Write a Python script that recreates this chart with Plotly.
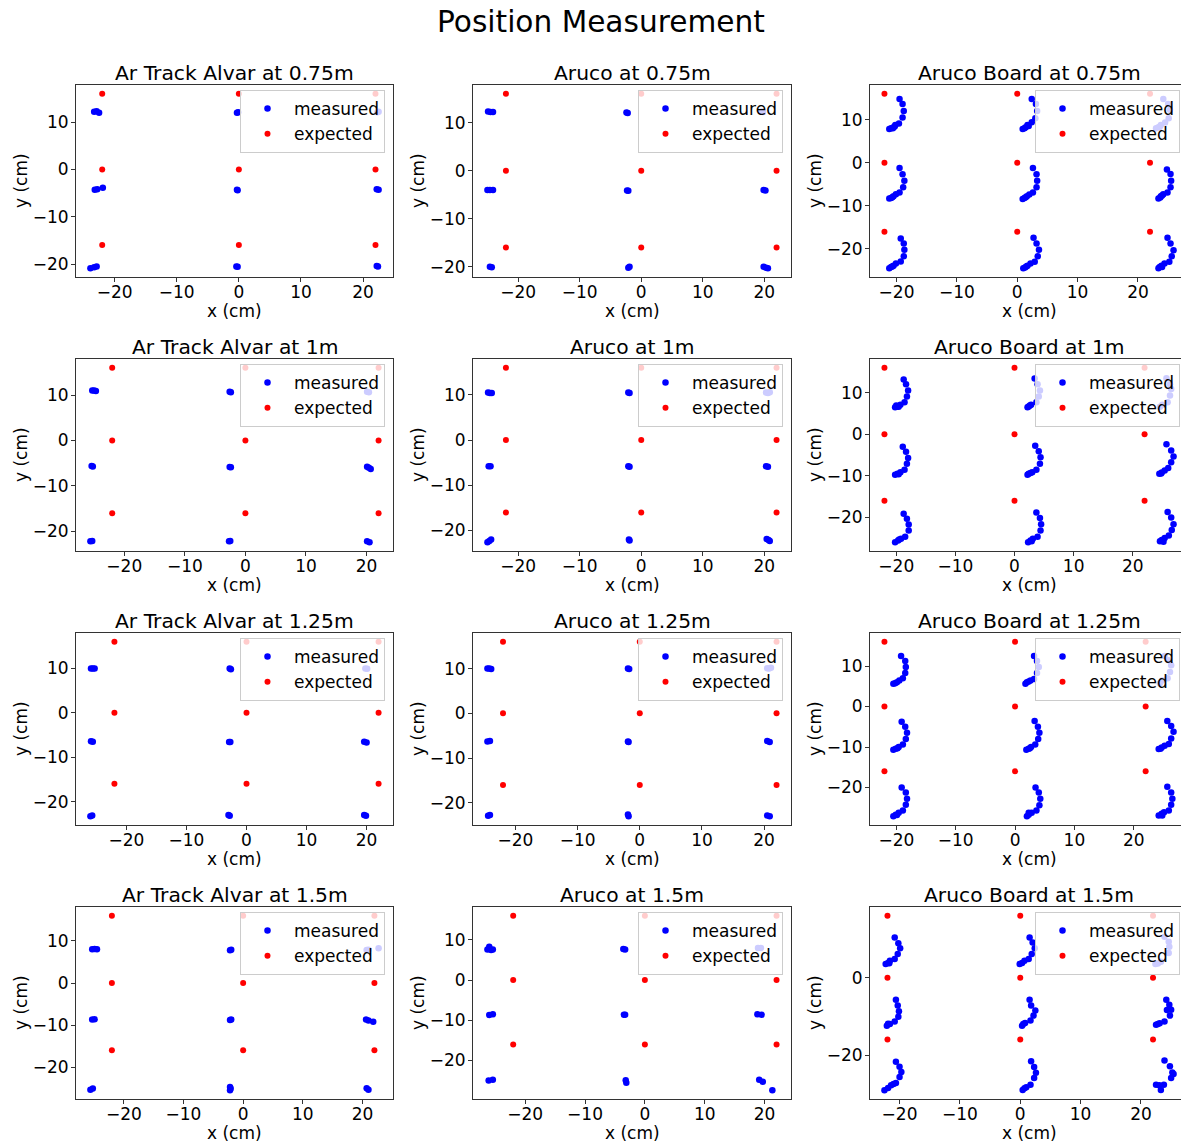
import plotly.graph_objects as go

# ---------------- data ----------------
METHODS = ["Ar Track Alvar", "Aruco", "Aruco Board"]
DISTANCES = ["0.75m", "1m", "1.25m", "1.5m"]

EXPECTED_X = [-22, 0, 22, -22, 0, 22, -22, 0, 22]
EXPECTED_Y = [16, 16, 16, 0, 0, 0, -16, -16, -16]

X_TICKS = [-20, -10, 0, 10, 20]
Y_TICKS = [-20, -10, 0, 10]
Y_TICKS_COARSE = [-20, 0]

# Ar Track Alvar
at075_x = [-23.3, -22.9, -22.5, -0.3, -0.1, 22.3, 22.5,
           -23.2, -22.8, -21.9, -0.3, -0.2, 22.2, 22.5,
           -23.9, -23.3, -22.9, -0.4, -0.2, 22.2, 22.4]
at075_y = [12.2, 12.3, 12.0, 12.0, 12.1, 12.1, 12.2,
           -4.3, -4.2, -3.9, -4.3, -4.4, -4.2, -4.3,
           -20.9, -20.7, -20.5, -20.5, -20.6, -20.4, -20.5]

at100_x = [-25.3, -25.0, -24.7, -2.6, -2.4, 20.1, 20.4,
           -25.4, -25.2, -2.6, -2.4, 20.1, 20.4, 20.7,
           -25.6, -25.3, -2.7, -2.5, 20.1, 20.5]
at100_y = [11.0, 11.0, 10.9, 10.7, 10.6, 10.7, 10.6,
           -5.6, -5.75, -5.85, -5.9, -5.8, -6.0, -6.3,
           -22.2, -22.1, -22.2, -22.1, -22.2, -22.4]

at125_x = [-25.9, -25.6, -25.3, -2.8, -2.6, 19.8, 20.1,
           -25.9, -25.6, -2.9, -2.7, 19.6, 20.0,
           -26.0, -25.7, -3.0, -2.8, 19.6, 19.9]
at125_y = [10.0, 10.0, 10.0, 10.0, 9.8, 10.0, 9.9,
           -6.4, -6.5, -6.6, -6.6, -6.5, -6.7,
           -23.3, -23.1, -23.0, -23.2, -23.0, -23.2]

at150_x = [-25.3, -24.9, -24.5, -2.2, -2.0, 20.7, 21.0, 22.7,
           -25.3, -24.9, -2.2, -2.0, 20.6, 21.0, 21.8,
           -25.6, -25.2, -2.2, -2.2, -2.1, 20.7, 21.0]
at150_y = [8.0, 8.1, 8.0, 7.8, 7.9, 7.85, 7.9, 8.25,
           -8.7, -8.6, -8.8, -8.7, -8.7, -8.9, -9.2,
           -25.4, -25.1, -24.7, -25.5, -25.1, -25.0, -25.4]

# Aruco
aru075_x = [-24.9, -24.5, -24.1, -2.4, -2.2, 19.6, 19.8,
            -25.0, -24.6, -24.1, -2.3, -2.1, 19.9, 20.2,
            -24.6, -24.3, -2.1, -1.9, 19.9, 20.3, 20.6]
aru075_y = [12.3, 12.2, 12.2, 12.1, 12.0, 12.3, 12.2,
            -4.0, -4.0, -4.0, -4.1, -4.2, -4.0, -4.1,
            -20.0, -20.1, -20.2, -20.0, -20.0, -20.2, -20.3]

aru100_x = [-24.9, -24.6, -24.3, -2.1, -1.9, 20.3, 20.6, 20.9,
            -24.8, -24.5, -2.1, -1.9, 20.3, 20.6,
            -25.0, -24.7, -24.4, -2.0, -1.9, 20.4, 20.7, 20.9]
aru100_y = [10.5, 10.4, 10.4, 10.5, 10.4, 10.5, 10.4, 10.6,
            -5.8, -5.8, -5.8, -5.9, -5.8, -5.9,
            -22.6, -22.3, -22.0, -22.0, -22.2, -21.9, -22.1, -22.3]

aru125_x = [-24.5, -24.2, -23.9, -1.9, -1.7, 20.5, 20.8, 21.1,
            -24.5, -24.1, -1.9, -1.8, 20.5, 20.9,
            -24.4, -24.1, -1.9, -1.8, 20.5, 20.9]
aru125_y = [10.0, 10.0, 9.9, 10.0, 9.9, 10.1, 10.0, 10.2,
            -6.3, -6.2, -6.3, -6.4, -6.2, -6.4,
            -22.9, -22.7, -22.6, -23.0, -22.8, -23.0]

aru150_x = [-26.3, -26.0, -25.7, -25.4, -3.6, -3.3, 18.9, 19.4,
            -26.0, -25.4, -3.5, -3.3, 18.8, 19.5,
            -26.1, -25.4, -3.2, -3.1, 19.1, 19.7, 21.3]
aru150_y = [7.6, 8.3, 7.5, 7.6, 7.7, 7.6, 8.0, 8.0,
            -8.7, -8.5, -8.65, -8.6, -8.5, -8.65,
            -25.0, -24.8, -24.9, -25.5, -24.8, -25.3, -27.4]

# Aruco Board
brd075_x = [-19.5, -19.0, -18.8, -19.0, -19.6, -20.2, -20.5, -20.9, -21.2, -20.6, -20.3,
            2.4, 3.1, 3.3, 3.0, 2.4, 1.7, 1.2, 0.9, 1.4, 1.9,
            24.2, 25.0, 25.3, 25.1, 24.5, 23.8, 23.4, 23.0, 23.6,
            -19.5, -19.0, -18.7, -18.9, -19.5, -20.1, -20.5, -20.9, -21.2, -20.7,
            2.6, 3.2, 3.3, 3.2, 2.6, 2.0, 1.6, 1.2, 0.9, 1.4,
            24.8, 25.4, 25.5, 25.4, 24.9, 24.2, 23.8, 23.4, 23.7, 24.0,
            -19.3, -18.8, -18.7, -18.8, -19.3, -20.1, -20.5, -20.9, -21.2, -20.7,
            2.7, 3.2, 3.6, 3.4, 2.9, 2.2, 1.7, 1.3, 1.0, 1.5,
            24.9, 25.4, 25.9, 25.6, 25.2, 24.4, 23.9, 23.6, 23.4, 24.0]
brd075_y = [14.8, 13.6, 12.0, 10.5, 9.1, 8.75, 8.2, 7.97, 7.8, 8.0, 8.4,
            14.8, 13.6, 12.0, 10.3, 9.4, 8.75, 7.97, 7.8, 8.2, 8.5,
            14.8, 13.6, 12.3, 10.3, 9.3, 8.75, 8.2, 7.97, 8.3,
            -1.25, -2.7, -4.2, -5.7, -6.9, -7.3, -7.8, -8.2, -8.3, -8.0,
            -1.25, -2.7, -4.2, -5.7, -6.9, -7.4, -7.8, -8.2, -8.4, -8.0,
            -1.6, -2.6, -4.2, -5.7, -6.9, -7.3, -7.8, -8.3, -8.1, -7.6,
            -17.6, -18.75, -20.2, -21.7, -22.9, -23.4, -23.9, -24.2, -24.5, -24.1,
            -17.4, -18.75, -20.2, -21.7, -23.0, -23.4, -23.9, -24.3, -24.5, -24.1,
            -17.4, -18.75, -20.3, -21.7, -23.0, -23.4, -23.9, -24.2, -24.5, -24.2]

brd100_x = [-18.75, -18.35, -18.0, -18.2, -18.6, -19.3, -19.8, -20.2, -19.6, -20.0,
            3.4, 3.9, 4.3, 4.1, 3.7, 2.8, 2.4, 2.2, 2.6,
            25.7, 26.3, 26.5, 26.3, 25.9, 25.0, 24.6,
            -18.9, -18.35, -18.0, -18.2, -18.6, -19.3, -19.8, -20.2, -19.6,
            3.5, 4.1, 4.4, 4.3, 3.7, 3.0, 2.4, 2.2, 2.7,
            25.7, 26.5, 26.9, 26.5, 26.0, 25.4, 24.9, 24.5, 24.8,
            -18.75, -18.2, -17.9, -17.9, -18.5, -19.2, -19.7, -20.2, -19.5,
            3.7, 4.3, 4.5, 4.4, 3.9, 3.1, 2.7, 2.3, 2.9,
            25.9, 26.5, 26.9, 26.6, 26.1, 25.4, 24.9, 24.6, 25.2]
brd100_y = [13.2, 12.0, 10.5, 9.1, 7.7, 7.1, 6.7, 6.5, 6.65, 6.9,
            13.4, 12.0, 10.5, 9.1, 7.7, 7.1, 6.7, 6.5, 6.9,
            13.5, 12.0, 10.9, 9.3, 7.7, 7.1, 6.65,
            -3.0, -4.2, -5.7, -7.1, -8.5, -9.1, -9.5, -9.7, -9.6,
            -2.76, -4.05, -5.5, -7.05, -8.5, -9.1, -9.5, -9.7, -9.3,
            -2.4, -3.9, -5.35, -6.7, -8.1, -8.7, -9.2, -9.5, -9.4,
            -19.1, -20.3, -21.7, -23.1, -24.6, -25.1, -25.5, -25.95, -25.3,
            -18.8, -20.1, -21.6, -23.1, -24.6, -25.1, -25.5, -25.95, -25.7,
            -18.65, -20.0, -21.6, -23.0, -24.3, -24.9, -25.4, -25.7, -25.8]

brd125_x = [-19.2, -18.5, -18.4, -18.5, -18.9, -19.5, -19.9, -20.5, -20.2,
            3.2, 3.7, 4.0, 3.7, 3.2, 2.6, 2.0, 1.75, 2.3,
            25.2, 25.9, 26.3, 26.1, 25.7, 24.8, 24.4,
            -19.1, -18.5, -18.2, -18.4, -18.9, -19.6, -20.1, -20.5, -19.8,
            3.3, 3.85, 4.1, 3.9, 3.4, 2.7, 2.3, 1.9, 2.5,
            25.65, 26.3, 26.7, 26.3, 25.9, 25.2, 24.7, 24.2, 24.5,
            -19.1, -18.4, -18.2, -18.4, -18.9, -19.6, -20.1, -20.5, -19.9,
            3.45, 4.0, 4.25, 4.1, 3.6, 2.8, 2.3, 2.0, 2.3,
            25.65, 26.3, 26.5, 26.3, 25.9, 25.1, 24.7, 24.2, 24.8]
brd125_y = [12.5, 11.25, 9.75, 8.25, 7.0, 6.4, 6.0, 5.6, 5.75,
            12.5, 11.25, 9.75, 8.25, 6.8, 6.4, 6.0, 5.6, 6.2,
            12.5, 11.4, 10.2, 8.5, 7.0, 6.4, 5.75,
            -3.75, -5.0, -6.5, -8.0, -9.4, -10.0, -10.4, -10.7, -10.3,
            -3.6, -5.0, -6.5, -8.0, -9.4, -10.0, -10.4, -10.7, -10.3,
            -3.6, -4.8, -6.25, -7.9, -9.25, -9.7, -10.1, -10.5, -10.4,
            -20.0, -21.25, -22.75, -24.25, -25.7, -26.25, -26.7, -27.1, -26.8,
            -20.0, -21.25, -22.75, -24.4, -25.7, -26.25, -26.7, -27.1, -26.2,
            -19.8, -21.25, -22.75, -24.25, -25.7, -26.1, -26.5, -26.9, -26.9]

brd150_x = [-20.8, -20.2, -19.9, -20.3, -20.8, -21.6, -21.9, -22.3, -21.7,
            1.55, 2.05, 2.4, 1.9, 1.4, 0.7, 0.3, -0.1,
            23.9, 24.6, 24.7, 24.6, 23.3, 22.8, 22.4,
            -20.6, -20.3, -20.1, -20.2, -20.8, -21.6, -22.1, -21.9,
            1.55, 1.8, 2.5, 2.2, 1.7, 0.8, 0.3, 0.5,
            24.2, 24.7, 24.3, 25.0, 24.8, 23.9, 23.1, 22.5, 22.8,
            -20.6, -20.0, -19.7, -20.0, -20.6, -21.4, -21.9, -22.5, -21.0,
            1.8, 2.3, 2.6, 2.3, 1.7, 1.0, 0.4, 0.7,
            23.9, 24.8, 25.4, 25.0, 23.8, 23.05, 22.5, 23.3, 25.2]
brd150_y = [10.35, 8.9, 7.6, 6.1, 4.8, 4.35, 3.8, 3.5, 3.7,
            10.35, 9.1, 7.6, 6.1, 4.8, 4.35, 3.8, 3.5,
            10.6, 9.3, 8.0, 6.4, 4.1, 3.65, 3.5,
            -5.7, -7.2, -8.7, -10.1, -11.3, -12.0, -12.4, -11.9,
            -5.7, -7.2, -8.5, -9.8, -11.1, -11.7, -12.4, -12.0,
            -5.7, -7.0, -8.35, -8.3, -9.8, -11.3, -11.8, -12.2, -12.0,
            -21.7, -23.0, -24.4, -25.7, -27.2, -27.8, -28.5, -29.1, -27.5,
            -21.6, -23.1, -24.6, -25.9, -27.65, -28.3, -29.0, -28.6,
            -21.4, -22.9, -24.9, -25.9, -27.65, -27.8, -27.65, -29.0, -24.5]

MEASURED = [
    [(at075_x, at075_y), (aru075_x, aru075_y), (brd075_x, brd075_y)],
    [(at100_x, at100_y), (aru100_x, aru100_y), (brd100_x, brd100_y)],
    [(at125_x, at125_y), (aru125_x, aru125_y), (brd125_x, brd125_y)],
    [(at150_x, at150_y), (aru150_x, aru150_y), (brd150_x, brd150_y)],
]

# ---------------- layout geometry (pixels) ----------------
W, H = 1181, 1142
COL_LEFT = [76, 473, 870]
COL_W = [317, 318, 318]
ROW_TOP = [85, 359, 633, 907]
AX_H = 192
FONT = "DejaVu Sans"
AX_COLOR = "#333333"


def padded(vals, frac=0.05):
    lo, hi = min(vals), max(vals)
    p = (hi - lo) * frac
    return lo - p, hi + p


fig = go.Figure()
annotations = []
layout = dict(
    width=W, height=H,
    margin=dict(l=0, r=0, t=0, b=0),
    paper_bgcolor="white", plot_bgcolor="white",
    font=dict(family=FONT, size=17, color="black"),
    showlegend=True,
)

for r, dist in enumerate(DISTANCES):
    for c, method in enumerate(METHODS):
        idx = r * 3 + c + 1
        sfx = "" if idx == 1 else str(idx)
        mx, my = MEASURED[r][c]
        left, wfull, top = COL_LEFT[c], COL_W[c], ROW_TOP[r]
        right_vis = min(left + wfull, W)

        x0, x1 = padded(list(mx) + EXPECTED_X)
        x1 = x0 + (x1 - x0) * (right_vis - left) / wfull
        y0, y1 = padded(list(my) + EXPECTED_Y)

        leg = "legend" + sfx
        fig.add_trace(go.Scatter(
            x=mx, y=my, mode="markers", name="measured",
            marker=dict(color="blue", size=6.5),
            xaxis="x" + sfx, yaxis="y" + sfx, legend=leg,
        ))
        fig.add_trace(go.Scatter(
            x=EXPECTED_X, y=EXPECTED_Y, mode="markers", name="expected",
            marker=dict(color="red", size=6),
            xaxis="x" + sfx, yaxis="y" + sfx, legend=leg,
        ))

        ytv = Y_TICKS_COARSE if (r == 3 and c == 2) else Y_TICKS
        common = dict(
            showline=True, linecolor=AX_COLOR, linewidth=1,
            showgrid=False, zeroline=False,
            ticks="outside", ticklen=4, tickwidth=1, tickcolor=AX_COLOR,
            tickfont=dict(size=17, color="black", family=FONT),
            fixedrange=True,
        )
        layout["xaxis" + sfx] = dict(
            common, domain=[left / W, right_vis / W], range=[x0, x1],
            tickvals=X_TICKS, anchor="y" + sfx, mirror=True,
            ticklabelstandoff=-4,
        )
        layout["yaxis" + sfx] = dict(
            common, domain=[1 - (top + AX_H) / H, 1 - top / H], range=[y0, y1],
            tickvals=ytv, anchor="x" + sfx, mirror=(c != 2),
            ticklabelstandoff=-1,
        )
        layout[leg] = dict(
            x=(left + wfull - 8) / W, xanchor="right",
            y=1 - (top + 5) / H, yanchor="top",
            bgcolor="rgba(255,255,255,0.8)", bordercolor="#cccccc", borderwidth=1,
            itemwidth=43,
            font=dict(size=17, family=FONT, color="black"),
        )

        cx = (left + wfull / 2) / W
        annotations.append(dict(
            text=f"{method} at {dist}", x=cx, y=1 - top / H,
            xref="paper", yref="paper", xanchor="center", yanchor="bottom",
            yshift=-2, showarrow=False, font=dict(size=20.3, family=FONT, color="black"),
        ))
        annotations.append(dict(
            text="x (cm)", x=cx, y=1 - (top + AX_H) / H,
            xref="paper", yref="paper", xanchor="center", yanchor="middle",
            yshift=-34, showarrow=False, font=dict(size=17, family=FONT, color="black"),
        ))
        annotations.append(dict(
            text="y (cm)", x=(left - 55) / W, y=1 - (top + AX_H / 2) / H,
            xref="paper", yref="paper", xanchor="center", yanchor="middle",
            textangle=-90, showarrow=False, font=dict(size=17, family=FONT, color="black"),
        ))

annotations.append(dict(
    text="Position Measurement", x=601 / W, y=1 - 22 / H,
    xref="paper", yref="paper", xanchor="center", yanchor="middle",
    showarrow=False, font=dict(size=29.6, family=FONT, color="black"),
))
layout["annotations"] = annotations

fig.update_layout(**layout)
fig.write_html("out.html")
